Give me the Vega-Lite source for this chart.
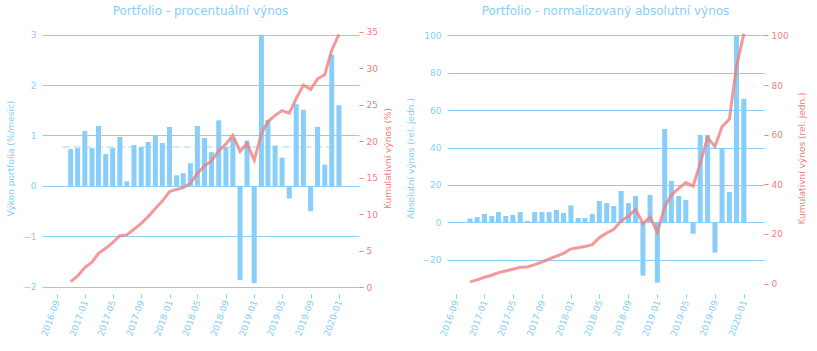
{
  "$schema": "https://vega.github.io/schema/vega-lite/v6.json",
  "padding": {"left": 6, "top": 5, "right": 5, "bottom": 5},
  "spacing": 13,
  "config": {
    "view": {"stroke": null},
    "font": "DejaVu Sans",
    "axis": {"labelFontSize": 9, "titleFontSize": 9, "titleFontWeight": "normal", "domain": false, "labelOverlap": false},
    "axisX": {"labelOverlap": false, "labelAngle": -70, "labelColor": "#87CEFA", "tickColor": "#87CEFA", "tickSize": 4, "grid": false, "labelPadding": 2, "labelFlush": false, "labelBound": false}
  },
  "datasets": {
    "m": [
      {"date": "2016-11-01", "ret": 0.73, "cum": 0.78, "abs": 2.1, "cabs": 0.67},
      {"date": "2016-12-01", "ret": 0.75, "cum": 1.55, "abs": 2.85, "cabs": 1.5},
      {"date": "2017-01-01", "ret": 1.09, "cum": 2.69, "abs": 4.5, "cabs": 2.55},
      {"date": "2017-02-01", "ret": 0.75, "cum": 3.42, "abs": 3.4, "cabs": 3.36},
      {"date": "2017-03-01", "ret": 1.19, "cum": 4.66, "abs": 5.5, "cabs": 4.43},
      {"date": "2017-04-01", "ret": 0.63, "cum": 5.34, "abs": 3.4, "cabs": 5.1},
      {"date": "2017-05-01", "ret": 0.75, "cum": 6.12, "abs": 3.9, "cabs": 5.77},
      {"date": "2017-06-01", "ret": 0.97, "cum": 7.07, "abs": 5.5, "cabs": 6.6},
      {"date": "2017-07-01", "ret": 0.09, "cum": 7.17, "abs": 0.7, "cabs": 6.7},
      {"date": "2017-08-01", "ret": 0.81, "cum": 7.94, "abs": 5.5, "cabs": 7.65},
      {"date": "2017-09-01", "ret": 0.77, "cum": 8.76, "abs": 5.5, "cabs": 8.7},
      {"date": "2017-10-01", "ret": 0.87, "cum": 9.68, "abs": 5.5, "cabs": 9.9},
      {"date": "2017-11-01", "ret": 1.0, "cum": 10.8, "abs": 6.6, "cabs": 11.1},
      {"date": "2017-12-01", "ret": 0.85, "cum": 11.8, "abs": 5.0, "cabs": 12.2},
      {"date": "2018-01-01", "ret": 1.17, "cum": 13.1, "abs": 9.1, "cabs": 14.0},
      {"date": "2018-02-01", "ret": 0.21, "cum": 13.4, "abs": 2.3, "cabs": 14.4},
      {"date": "2018-03-01", "ret": 0.25, "cum": 13.65, "abs": 2.3, "cabs": 14.9},
      {"date": "2018-04-01", "ret": 0.45, "cum": 14.24, "abs": 4.5, "cabs": 15.7},
      {"date": "2018-05-01", "ret": 1.19, "cum": 15.6, "abs": 11.4, "cabs": 18.5},
      {"date": "2018-06-01", "ret": 0.95, "cum": 16.66, "abs": 10.3, "cabs": 20.4},
      {"date": "2018-07-01", "ret": 0.67, "cum": 17.3, "abs": 8.7, "cabs": 21.9},
      {"date": "2018-08-01", "ret": 1.3, "cum": 18.7, "abs": 16.8, "cabs": 25.2},
      {"date": "2018-09-01", "ret": 0.77, "cum": 19.6, "abs": 10.3, "cabs": 27.2},
      {"date": "2018-10-01", "ret": 0.95, "cum": 20.8, "abs": 14.1, "cabs": 29.9},
      {"date": "2018-11-01", "ret": -1.87, "cum": 18.6, "abs": -28.5, "cabs": 24.2},
      {"date": "2018-12-01", "ret": 0.9, "cum": 19.7, "abs": 14.6, "cabs": 26.8},
      {"date": "2019-01-01", "ret": -1.93, "cum": 17.4, "abs": -32.3, "cabs": 20.7},
      {"date": "2019-02-01", "ret": 3.0, "cum": 21.05, "abs": 49.9, "cabs": 31.0},
      {"date": "2019-03-01", "ret": 1.31, "cum": 22.7, "abs": 22.1, "cabs": 35.7},
      {"date": "2019-04-01", "ret": 0.8, "cum": 23.55, "abs": 14.1, "cabs": 38.4},
      {"date": "2019-05-01", "ret": 0.56, "cum": 24.2, "abs": 11.9, "cabs": 40.7},
      {"date": "2019-06-01", "ret": -0.25, "cum": 23.85, "abs": -6.1, "cabs": 39.3},
      {"date": "2019-07-01", "ret": 1.62, "cum": 25.85, "abs": 46.7, "cabs": 48.5},
      {"date": "2019-08-01", "ret": 1.51, "cum": 27.7, "abs": 46.7, "cabs": 58.8},
      {"date": "2019-09-01", "ret": -0.5, "cum": 27.1, "abs": -16.2, "cabs": 55.2},
      {"date": "2019-10-01", "ret": 1.17, "cum": 28.55, "abs": 39.2, "cabs": 63.2},
      {"date": "2019-11-01", "ret": 0.42, "cum": 29.1, "abs": 16.2, "cabs": 66.3},
      {"date": "2019-12-01", "ret": 2.6, "cum": 32.45, "abs": 100, "cabs": 87.4},
      {"date": "2020-01-01", "ret": 1.6, "cum": 34.65, "abs": 66, "cabs": 100.7}
    ],
    "mean": [
      {"start": "2016-09-27", "end": "2019-12-18", "mean": 0.772}
    ]
  },
  "hconcat": [
    {
      "width": 317,
      "height": 272,
      "title": {"text": "Portfolio - procentuální výnos", "color": "#87CEFA", "fontSize": 12, "fontWeight": "normal", "offset": 4},
      "layer": [
        {
          "layer": [
            {
              "data": {"name": "mean"},
              "mark": {"type": "rule", "strokeDash": [7, 4], "strokeWidth": 2, "color": "#d3eaf2"},
              "encoding": {
                "x": {"field": "start", "type": "temporal"},
                "x2": {"field": "end"},
                "y": {"field": "mean", "type": "quantitative"}
              }
            },
            {
              "data": {"name": "m"},
              "mark": {"type": "bar", "size": 5, "color": "#87CEFA"},
              "encoding": {
                "x": {
                  "field": "date", "type": "temporal",
                  "scale": {"type": "utc", "domain": [{"year": 2016, "month": 7, "date": 22, "utc": true}, {"year": 2020, "month": 3, "date": 6, "utc": true}]},
                  "axis": {"title": null, "format": "%Y-%m", "labelOverlap": false, "tickCount": {"interval": "month", "step": 4}}
                },
                "y": {
                  "field": "ret", "type": "quantitative",
                  "scale": {"domain": [-2.145, 3.252], "nice": false, "zero": false},
                  "axis": {"title": "Výkon portfolia (%/mesic)", "titleColor": "#87CEFA", "labelColor": "#87CEFA", "values": [-2, -1, 0, 1, 2, 3], "ticks": false, "grid": true, "gridColor": "#87CEFA", "gridOpacity": 1, "labelPadding": 6, "titlePadding": 7}
                }
              }
            }
          ]
        },
        {
          "data": {"name": "m"},
          "mark": {"type": "line", "color": "#F08080", "strokeWidth": 3, "opacity": 0.8},
          "encoding": {
            "x": {"field": "date", "type": "temporal", "axis": {"title": null, "format": "%Y-%m", "labelOverlap": false, "tickCount": {"interval": "month", "step": 4}}},
            "y": {
              "field": "cum", "type": "quantitative",
              "scale": {"domain": [-0.92, 36.33], "nice": false, "zero": false},
              "axis": {"orient": "right", "title": "Kumulativní výnos (%)", "titleAngle": -90, "titleColor": "#F08080", "labelColor": "#F08080", "tickColor": "#F08080", "tickSize": 4, "labelPadding": 3, "titlePadding": 15, "values": [0, 5, 10, 15, 20, 25, 30, 35], "grid": false}
            }
          }
        }
      ],
      "resolve": {"scale": {"y": "independent"}}
    },
    {
      "width": 317,
      "height": 272,
      "title": {"text": "Portfolio - normalizovaný absolutní výnos", "color": "#87CEFA", "fontSize": 12, "fontWeight": "normal", "offset": 4},
      "data": {"name": "m"},
      "layer": [
        {
          "mark": {"type": "bar", "size": 5, "color": "#87CEFA"},
          "encoding": {
            "x": {
              "field": "date", "type": "temporal",
              "scale": {"type": "utc", "domain": [{"year": 2016, "month": 8, "date": 17, "utc": true}, {"year": 2020, "month": 3, "date": 5, "utc": true}]},
              "axis": {"title": null, "format": "%Y-%m", "labelOverlap": false, "tickCount": {"interval": "month", "step": 4}}
            },
            "y": {
              "field": "abs", "type": "quantitative",
              "scale": {"domain": [-38.3, 107.1], "nice": false, "zero": false},
              "axis": {"title": "Absolutní výnos (rel. jedn.)", "titleColor": "#87CEFA", "labelColor": "#87CEFA", "values": [-20, 0, 20, 40, 60, 80, 100], "ticks": false, "grid": true, "gridColor": "#87CEFA", "gridOpacity": 1, "labelPadding": 6, "titlePadding": 7}
            }
          }
        },
        {
          "mark": {"type": "line", "color": "#F08080", "strokeWidth": 3, "opacity": 0.8},
          "encoding": {
            "x": {"field": "date", "type": "temporal", "axis": {"title": null, "format": "%Y-%m", "labelOverlap": false, "tickCount": {"interval": "month", "step": 4}}},
            "y": {
              "field": "cabs", "type": "quantitative",
              "scale": {"domain": [-4.2, 105.4], "nice": false, "zero": false},
              "axis": {"orient": "right", "title": "Kumulativní výnos (rel. jedn.)", "titleAngle": -90, "titleColor": "#F08080", "labelColor": "#F08080", "tickColor": "#F08080", "tickSize": 4, "labelPadding": 3, "titlePadding": 18, "values": [0, 20, 40, 60, 80, 100], "grid": false}
            }
          }
        }
      ],
      "resolve": {"scale": {"y": "independent"}}
    }
  ]
}
